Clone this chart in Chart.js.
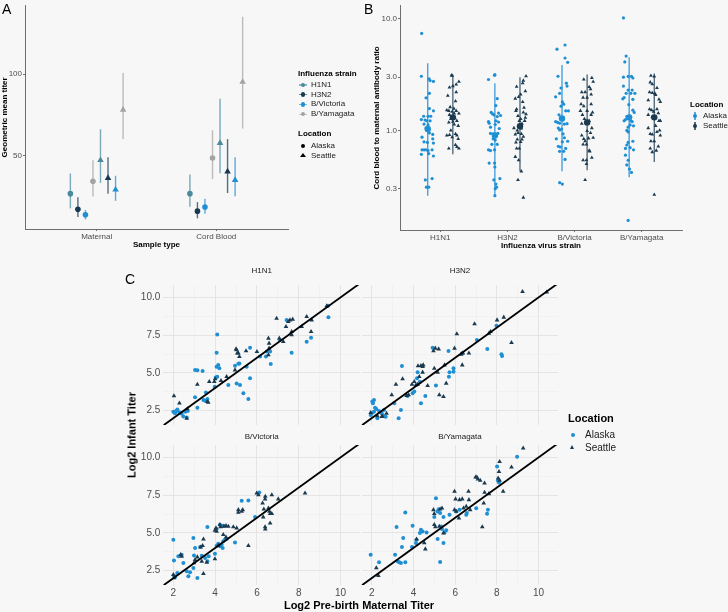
<!DOCTYPE html>
<html>
<head>
<meta charset="utf-8">
<script src="https://cdn.jsdelivr.net/npm/chart.js@4.4.0/dist/chart.umd.min.js"></script>
<style>
  body { margin: 0; background: #f7f7f7; font-family: "Liberation Sans", Arial, sans-serif; }
  #fig { position: relative; width: 728px; height: 612px; overflow: hidden; background: #f7f7f7; }
  #fig canvas { position: absolute; left: 0; top: 0; }
  .t { position: absolute; white-space: nowrap; }
  .key { position: absolute; }
</style>
</head>
<body>
<div id="fig"></div>
<script>
// ---- data ----
const sampleTypes = ['Maternal', 'Cord Blood'];
const strains = ['H1N1', 'H3N2', 'B/Victoria', 'B/Yamagata'];
const locations = ['Alaska', 'Seattle'];

// Panel A: geometric mean titer, [Maternal, Cord Blood] per strain
const gmtTicks = [50, 100];
const gmtAlaska = [[27.0, 27.0], [17.4, 16.3], [14.1, 18.8], [34.5, 48.8]];
const gmtAlaskaLow = [[18.0, 19.0], [12.7, 11.9], [11.3, 14.7], [25.2, 35.9]];
const gmtAlaskaHigh = [[39.3, 38.7], [24.8, 21.8], [17.0, 23.8], [47.4, 65.7]];
const gmtSeattle = [[47.4, 57.9], [36.5, 40.5], [29.4, 35.3], [78.2, 95.2]];
const gmtSeattleLow = [[33.5, 39.5], [27.0, 27.4], [22.6, 25.4], [60.3, 66.7]];
const gmtSeattleHigh = [[66.3, 84.9], [49.2, 60.3], [37.9, 49.2], [100.6, 135.0]];

// Panel B: cord blood / maternal ratio
const ratioTicks = [0.3, 1, 3, 10];
const ratioAlaskaMean = [1.03, 0.90, 1.28, 1.31];
const ratioAlaskaLow = [0.26, 0.26, 0.43, 0.38];
const ratioAlaskaHigh = [4.0, 2.65, 3.86, 4.54];
const ratioSeattleMean = [1.31, 1.09, 1.18, 1.31];
const ratioSeattleLow = [0.61, 0.43, 0.44, 0.52];
const ratioSeattleHigh = [3.18, 3.0, 3.18, 3.23];
// individual samples: [jitter, ratio]
const ratioH1N1Alaska = [[-0.09,7.4],[-0.095,3.06],[0.02,2.9],[0.035,2.8],[0.085,2.75],[0.025,2.15],[-0.025,1.96],[0.025,1.57],[0.085,1.5],[-0.06,1.34],[0.005,1.34],[0.045,1.34],[-0.095,1.25],[-0.04,1.24],[-0.015,1.22],[0.035,1.22],[-0.055,1.14],[0.005,1.12],[-0.025,1.05],[0,1.03],[0.015,1.03],[-0.015,1.01],[0.005,1.0],[0.025,0.95],[0.075,0.92],[-0.085,0.87],[0.075,0.84],[-0.055,0.79],[-0.005,0.78],[0.085,0.77],[-0.085,0.67],[-0.055,0.67],[-0.025,0.67],[0.005,0.66],[0.065,0.67],[0.015,0.62],[-0.095,0.61],[0.085,0.59],[-0.035,0.36],[0.065,0.37],[-0.02,0.31],[0.015,0.31]];
const ratioH1N1Seattle = [[-0.02,3.12],[-0.01,3.1],[0.09,2.74],[0.05,2.58],[0,2.5],[-0.05,2.43],[0.05,2.2],[-0.075,2.05],[0.04,1.83],[-0.04,1.62],[0.015,1.57],[-0.09,1.52],[-0.06,1.5],[-0.01,1.47],[0.05,1.5],[0.02,1.42],[0.09,1.42],[-0.05,1.38],[-0.01,1.33],[0.01,1.31],[0.03,1.29],[-0.03,1.27],[0.06,1.22],[0,1.2],[-0.06,1.18],[0.02,1.13],[0.08,1.1],[-0.03,1.0],[0.04,0.93],[0.06,0.9],[-0.09,0.9],[-0.05,0.91],[-0.01,0.87],[0.08,0.84],[0.04,0.74],[0.06,0.71],[0.09,0.69],[-0.06,0.69]];
const ratioH3N2Alaska = [[0,3.16],[-0.005,3.12],[-0.095,2.86],[0.035,1.93],[0.015,1.67],[-0.055,1.45],[-0.015,1.38],[-0.035,1.41],[0.055,1.43],[0.085,1.36],[0.035,1.33],[-0.095,1.2],[-0.085,1.16],[0.015,1.22],[0.055,1.19],[0.005,1.13],[-0.065,1.07],[0.065,1.04],[-0.065,0.94],[-0.025,0.93],[-0.005,0.91],[0.025,0.91],[0.045,0.94],[-0.025,0.84],[0.005,0.82],[-0.045,0.75],[0.035,0.75],[-0.095,0.67],[-0.065,0.66],[-0.005,0.67],[-0.085,0.51],[-0.005,0.51],[0,0.47],[-0.015,0.36],[0.075,0.37],[0.015,0.33],[0.025,0.31],[0.005,0.30],[0,0.26]];
const ratioH3N2Seattle = [[0.09,3.06],[0.05,2.8],[0.04,2.65],[-0.05,2.47],[0.08,2.25],[0.01,2.1],[-0.02,2.0],[-0.07,1.93],[0.04,1.8],[0.06,1.6],[-0.05,1.55],[-0.06,1.5],[0.05,1.45],[0.09,1.4],[-0.03,1.35],[0.08,1.3],[0.01,1.27],[-0.01,1.22],[0.07,1.22],[0.03,1.15],[-0.02,1.1],[0,1.08],[0.02,1.04],[-0.09,1.05],[-0.04,1.0],[-0.07,0.92],[-0.03,0.95],[0.02,0.93],[0.05,0.88],[-0.04,0.83],[0.03,0.83],[0.01,0.79],[-0.06,0.78],[-0.05,0.69],[-0.01,0.69],[-0.07,0.58],[-0.02,0.54],[0.02,0.43],[-0.03,0.36],[0.05,0.25]];
const ratioBVicAlaska = [[-0.075,5.35],[0.045,5.83],[0.045,4.46],[0.085,4.08],[-0.06,3.06],[0.065,2.65],[0.075,2.5],[-0.015,2.4],[-0.035,2.15],[-0.095,2.0],[0.005,1.8],[-0.015,1.65],[0.025,1.72],[0.055,1.5],[0.095,1.5],[-0.045,1.38],[0.005,1.3],[-0.005,1.27],[0.015,1.29],[-0.095,1.2],[-0.065,1.18],[-0.035,1.16],[0.075,1.15],[0.035,1.14],[-0.055,1.05],[-0.005,1.03],[-0.035,1.01],[0.015,0.93],[0.035,0.86],[-0.085,0.84],[0.085,0.8],[0.005,0.79],[-0.055,0.72],[-0.025,0.71],[0.055,0.69],[-0.035,0.65],[0.025,0.65],[0.045,0.55],[-0.035,0.34],[0.005,0.33]];
const ratioBVicSeattle = [[0.07,2.95],[-0.05,2.86],[0.09,2.74],[0.03,2.45],[0.05,2.35],[-0.08,2.2],[-0.03,2.2],[0.06,2.1],[-0.06,1.97],[0,1.97],[-0.09,1.72],[0.06,1.72],[-0.05,1.65],[-0.1,1.5],[0,1.5],[-0.07,1.38],[0.08,1.45],[0.06,1.38],[-0.04,1.27],[0,1.2],[0.03,1.22],[-0.08,1.15],[0.07,1.05],[0,0.99],[0.05,0.95],[-0.08,0.9],[-0.05,0.84],[0.02,0.85],[0.09,0.86],[-0.03,0.8],[-0.06,0.75],[-0.01,0.75],[0.03,0.66],[0.04,0.65],[0.07,0.57],[-0.06,0.54],[-0.01,0.54],[-0.01,0.5],[-0.03,0.36]];
const ratioBYamAlaska = [[-0.085,10.2],[-0.045,4.64],[-0.065,4.11],[-0.085,3.0],[-0.015,3.05],[0.035,3.05],[0.055,2.95],[-0.085,2.5],[0.045,2.3],[-0.015,2.3],[-0.045,2.15],[0.025,2.15],[0.085,2.15],[-0.095,1.92],[-0.075,1.97],[0.055,1.9],[-0.005,1.7],[0.055,1.52],[0.075,1.45],[-0.035,1.33],[-0.005,1.31],[0.005,1.29],[-0.055,1.25],[0.025,1.22],[0.045,1.2],[-0.075,1.22],[0.015,1.12],[0.065,1.1],[-0.015,1.07],[-0.035,1.0],[-0.015,0.97],[0.055,0.8],[-0.015,0.78],[-0.035,0.74],[0.015,0.7],[-0.055,0.69],[0.065,0.67],[-0.055,0.6],[-0.015,0.54],[-0.035,0.49],[0.005,0.45],[0.035,0.42],[-0.015,0.156]];
const ratioBYamSeattle = [[-0.05,3.1],[0,3.05],[-0.06,2.7],[0.04,2.4],[-0.03,2.6],[-0.07,2.2],[-0.03,2.17],[0.01,2.14],[0.02,2.08],[0.07,1.9],[0.09,1.8],[-0.09,1.87],[-0.07,1.55],[-0.04,1.52],[-0.01,1.47],[0.04,1.55],[0.06,1.43],[-0.09,1.38],[-0.03,1.33],[-0.01,1.29],[0.01,1.31],[0.07,1.22],[0.09,1.22],[-0.09,1.05],[0.02,1.1],[-0.06,0.93],[-0.03,0.92],[0.04,0.97],[0.08,1.0],[0.09,0.9],[-0.05,0.8],[0,0.8],[0.06,0.72],[-0.06,0.69],[0.03,0.66],[-0.03,0.64],[0,0.265]];
const ratioByStrain = [
  [ratioH1N1Alaska, ratioH1N1Seattle],
  [ratioH3N2Alaska, ratioH3N2Seattle],
  [ratioBVicAlaska, ratioBVicSeattle],
  [ratioBYamAlaska, ratioBYamSeattle]
];

// Panel C: [log2 pre-birth maternal titer, log2 infant titer]
const titerTicksX = [2, 4, 6, 8, 10];
const titerTicksY = [2.5, 5, 7.5, 10];
const titerH1N1Alaska = [[2.0,2.43],[2.08,2.32],[2.13,2.48],[2.19,2.57],[2.29,2.39],[2.4,2.3],[2.48,2.12],[2.57,2.43],[2.64,2.04],[2.69,2.48],[3.04,5.19],[3.15,5.17],[3.4,5.13],[3.15,2.7],[3.04,3.38],[3.44,3.2],[3.52,3.16],[3.63,3.27],[3.56,3.71],[3.98,4.09],[4.1,7.55],[4.07,6.34],[4.07,5.41],[4.15,5.52],[4.2,5.3],[4.03,4.69],[4.1,4.75],[4.63,4.2],[4.95,5.48],[5.11,5.6],[5.16,5.63],[5.03,4.29],[5.19,4.2],[5.35,3.65],[5.59,3.27],[5.67,4.64],[5.51,5.41],[5.67,6.67],[6.15,6.08],[6.47,6.41],[6.66,5.59],[6.63,6.41],[6.43,6.08],[7.42,8.5],[7.66,6.34],[7.1,7.18],[8.38,7.07],[8.59,7.33],[9.42,8.68],[9.4,9.45]];
const titerH1N1Seattle = [[2.03,3.47],[2.29,2.99],[2.67,2.61],[2.64,1.99],[3.15,4.24],[3.72,4.42],[3.63,3.1],[3.67,3.05],[3.96,4.42],[4.0,4.6],[4.28,4.49],[4.55,4.75],[4.95,5.19],[5.03,6.52],[5.11,6.3],[5.16,6.08],[5.0,6.58],[5.06,6.3],[5.48,6.45],[6.0,6.41],[6.55,7.29],[6.58,6.96],[6.55,6.19],[6.58,6.63],[6.94,8.61],[7.07,7.29],[7.26,7.07],[7.39,8.06],[7.5,8.39],[7.58,8.5],[7.71,8.55],[7.66,7.73],[7.66,7.51],[8.14,8.06],[8.38,8.72],[8.62,8.5],[8.59,7.73],[9.34,9.43]];
const titerH3N2Alaska = [[2.03,3.1],[2.11,3.21],[2.06,2.99],[2.16,2.7],[2.22,2.61],[2.0,2.32],[1.95,2.21],[2.11,2.43],[2.27,1.99],[2.35,2.48],[2.48,2.32],[2.59,2.54],[2.67,2.1],[2.55,2.17],[3.29,1.99],[3.4,2.54],[3.08,2.99],[3.45,5.46],[3.72,3.47],[3.96,3.65],[4.04,3.76],[4.2,5.04],[4.17,4.64],[4.31,4.42],[4.36,2.99],[4.57,3.47],[5.08,4.16],[4.92,6.67],[5.68,6.45],[5.7,4.75],[5.73,5.04],[5.92,5.3],[5.92,5.08],[6.34,6.3],[7.04,7.18],[7.54,6.58],[7.98,8.13],[8.22,6.23],[8.25,6.12]];
const titerH3N2Seattle = [[1.95,2.37],[2.27,2.15],[2.48,2.1],[2.71,2.32],[2.51,2.12],[2.96,3.54],[3.16,4.24],[3.48,4.6],[3.67,3.49],[3.77,3.54],[3.93,4.24],[4.04,4.42],[4.12,4.2],[4.22,5.46],[4.36,5.48],[4.44,5.41],[4.47,5.52],[4.44,5.04],[4.28,4.75],[4.2,4.24],[4.68,4.16],[4.96,6.45],[5.05,6.63],[5.21,6.58],[5.0,5.3],[5.16,5.04],[5.49,5.52],[5.24,3.54],[5.44,3.43],[5.57,4.31],[5.97,6.63],[6.08,7.58],[6.29,6.23],[6.37,6.3],[6.34,5.52],[6.66,6.3],[6.93,8.24],[7.62,7.62],[7.69,7.73],[8.01,8.5],[8.33,8.68],[8.7,7.0],[9.23,10.38],[10.39,10.34]];
const titerBVicAlaska = [[2.0,4.55],[2.03,3.18],[2.24,3.45],[2.03,2.17],[2.08,2.06],[2.19,2.35],[2.4,3.56],[2.48,3.01],[2.64,2.46],[2.72,2.13],[2.8,2.39],[2.96,4.66],[3.04,4.0],[2.99,3.51],[3.15,2.02],[2.96,2.68],[3.28,4.06],[3.36,3.49],[3.52,3.34],[3.63,3.12],[3.63,5.39],[3.69,3.45],[3.99,3.62],[4.07,4.15],[4.07,5.25],[4.15,4.28],[4.23,4.11],[4.31,4.22],[4.39,4.44],[4.47,4.55],[4.55,4.59],[4.36,4.0],[4.23,5.54],[4.39,5.47],[4.95,4.37],[5.27,7.13],[5.59,7.15],[5.91,6.05],[6.11,7.68]];
const titerBVicSeattle = [[2.0,2.24],[2.03,2.02],[2.35,3.56],[2.4,3.45],[2.99,3.01],[3.04,3.23],[3.15,3.4],[3.31,4.06],[3.4,4.15],[3.36,3.12],[3.44,4.59],[3.44,2.3],[3.6,3.05],[3.99,5.16],[4.04,5.32],[4.07,5.1],[3.99,3.27],[4.15,4.15],[4.23,5.54],[4.26,5.39],[4.42,5.43],[4.52,5.47],[4.63,5.43],[4.87,5.39],[4.39,4.88],[4.52,4.72],[5.03,5.32],[5.11,6.53],[5.11,6.35],[5.32,6.53],[5.27,6.42],[5.59,4.15],[5.99,7.63],[6.07,7.52],[6.27,6.97],[6.39,7.24],[6.4,7.41],[6.33,6.57],[6.55,6.64],[6.6,6.42],[6.3,6.05],[6.4,5.25],[6.39,5.39],[6.63,6.27],[6.71,6.27],[6.71,7.52],[6.63,5.65],[7.02,7.24],[8.3,7.63]];
const titerBYamAlaska = [[1.95,3.56],[2.35,3.05],[3.12,3.56],[3.24,3.12],[3.32,3.05],[3.4,3.01],[3.61,3.05],[3.19,5.39],[3.45,4.06],[3.51,4.66],[3.61,6.35],[3.96,5.47],[3.93,4.06],[4.12,4.33],[4.36,5.21],[4.44,5.1],[4.31,4.99],[4.63,5.03],[4.15,4.55],[5.0,6.05],[5.08,7.3],[5.16,6.42],[5.21,6.57],[5.28,6.31],[5.33,5.43],[5.49,5.03],[5.37,5.25],[5.57,5.17],[5.44,6.05],[5.73,6.2],[5.44,4.33],[5.16,4.59],[5.28,3.07],[6.05,6.42],[6.21,6.53],[6.53,6.2],[6.56,6.31],[7.01,6.64],[7.57,6.53],[7.53,6.27],[8.01,9.39],[8.1,8.34],[8.05,8.47],[8.97,10.05]];
const titerBYamSeattle = [[2.22,2.68],[2.32,2.17],[4.15,4.59],[4.52,4.33],[4.57,3.93],[4.96,6.53],[5.0,6.27],[5.0,5.54],[5.05,5.39],[5.28,6.57],[5.37,6.64],[5.24,5.43],[5.44,4.99],[5.97,7.74],[6.02,7.24],[5.97,6.53],[6.05,6.42],[6.21,7.19],[6.34,7.24],[6.18,5.98],[6.4,6.64],[6.53,6.75],[6.66,7.19],[6.64,7.74],[6.72,6.53],[6.98,8.69],[7.04,8.69],[7.09,8.56],[7.2,8.47],[7.3,5.39],[7.37,6.97],[7.41,7.68],[7.41,8.29],[7.62,7.59],[8.1,9.06],[8.13,9.72],[8.06,8.62],[8.13,8.47],[8.3,7.74],[8.7,9.35],[9.26,10.61]];

// ---- styling ----
const strainColors = ['#4b8a9e', '#173a52', '#1e8fd2', '#a3a3a3'];
const alaskaBlue = '#1f8fd3';
const seattleNavy = '#1b3a50';
const axisGray = '#6e6e6e';
const tickGray = '#4d4d4d';

Chart.defaults.font.family = '"Liberation Sans", Arial, sans-serif';
Chart.defaults.color = tickGray;

const fig = document.getElementById('fig');

function rgba(hex, a) {
  const n = parseInt(hex.slice(1), 16);
  return `rgba(${n >> 16},${(n >> 8) & 255},${n & 255},${a})`;
}

function newCanvas() {
  const c = document.createElement('canvas');
  c.width = 728;
  c.height = 612;
  fig.appendChild(c);
  return c;
}

function fixed(px) {
  return s => { if (s.isHorizontal()) s.height = px; else s.width = px; };
}

function setTicks(values) {
  return s => { s.ticks = values.map(v => ({ value: v })); };
}

// vertical interval lines drawn from each point's lo/hi through the scales
const errorBars = {
  id: 'errorBars',
  beforeDatasetsDraw(chart) {
    const { ctx, scales: { x, y } } = chart;
    ctx.save();
    chart.data.datasets.forEach(ds => {
      if (!ds.errColor) return;
      ctx.strokeStyle = ds.errColor;
      ctx.lineWidth = ds.errWidth;
      ds.data.forEach(p => {
        const px = x.getPixelForValue(p.x);
        ctx.beginPath();
        ctx.moveTo(px, y.getPixelForValue(p.lo));
        ctx.lineTo(px, y.getPixelForValue(p.hi));
        ctx.stroke();
      });
    });
    ctx.restore();
  }
};

function text(str, x, y, o = {}) {
  const d = document.createElement('div');
  const size = o.size || 8;
  d.className = 't';
  d.textContent = str;
  d.style.fontSize = size + 'px';
  d.style.lineHeight = size + 'px';
  d.style.fontWeight = o.bold ? 'bold' : 'normal';
  d.style.color = o.color || '#000';
  d.style.left = x + 'px';
  d.style.top = y + 'px';
  const dx = o.align === 'center' ? '-50%' : (o.align === 'right' ? '-100%' : '0');
  d.style.transform = `translate(${dx},-50%)` + (o.rotate ? ` rotate(${o.rotate}deg)` : '');
  fig.appendChild(d);
}

function key(shape, x, y, color, r, line) {
  if (line) {
    const l = document.createElement('div');
    l.className = 'key';
    l.style.cssText += `left:${x - 0.6}px;top:${y - line / 2}px;width:1.2px;height:${line}px;background:${color};opacity:0.75`;
    fig.appendChild(l);
  }
  const d = document.createElement('div');
  d.className = 'key';
  if (shape === 'circle') {
    d.style.cssText += `left:${x - r}px;top:${y - r}px;width:${2 * r}px;height:${2 * r}px;border-radius:50%;background:${color}`;
  } else {
    const h = r * 1.6;
    d.style.cssText += `left:${x - r}px;top:${y - h * 0.6}px;width:0;height:0;border-left:${r}px solid transparent;border-right:${r}px solid transparent;border-bottom:${h}px solid ${color}`;
  }
  fig.appendChild(d);
}

const axisTicksFont = { size: 8 };
const axisTitleFont = { size: 8, weight: 'bold' };

function classicAxis(extra) {
  return Object.assign({
    border: { display: true, color: axisGray, width: 1 },
    grid: { display: true, drawOnChartArea: false, drawTicks: true, tickLength: 2, color: axisGray },
    ticks: { font: axisTicksFont, color: tickGray, padding: 1, autoSkip: false, maxRotation: 0, minRotation: 0 }
  }, extra);
}

// ---- Panel A ----
const dodge = 0.063;
const dsA = [];
locations.forEach((loc, li) => {
  const mean = li ? gmtSeattle : gmtAlaska;
  const low = li ? gmtSeattleLow : gmtAlaskaLow;
  const high = li ? gmtSeattleHigh : gmtAlaskaHigh;
  strains.forEach((s, si) => {
    const off = (li * 4 + si - 3.5) * dodge;
    dsA.push({
      label: s + ' ' + loc,
      data: sampleTypes.map((t, ti) => ({ x: ti + 1 + off, y: mean[si][ti], lo: low[si][ti], hi: high[si][ti] })),
      pointStyle: li ? 'triangle' : 'circle',
      pointRadius: li ? 3.8 : 2.8,
      backgroundColor: strainColors[si],
      borderColor: strainColors[si],
      borderWidth: 0,
      errColor: rgba(strainColors[si], 0.72),
      errWidth: 1.4
    });
  });
});

new Chart(newCanvas(), {
  type: 'scatter',
  data: { datasets: dsA },
  plugins: [errorBars],
  options: {
    responsive: false, animation: false, devicePixelRatio: 1,
    layout: { padding: { left: 0, top: 0, right: 440, bottom: 362 } },
    plugins: { legend: { display: false }, tooltip: { enabled: false } },
    scales: {
      x: classicAxis({
        type: 'linear', min: 0.4, max: 2.6,
        afterBuildTicks: setTicks([1, 2]),
        afterFit: fixed(21),
        ticks: { font: axisTicksFont, color: tickGray, padding: 1, autoSkip: false, maxRotation: 0, minRotation: 0,
                 callback: v => sampleTypes[v - 1] },
        title: { display: true, text: 'Sample type', font: axisTitleFont, color: '#000', padding: 0 }
      }),
      y: classicAxis({
        type: 'linear', min: 5.4, max: 141.7,
        afterBuildTicks: setTicks(gmtTicks),
        afterFit: fixed(25),
        title: { display: true, text: 'Geometric mean titer', font: axisTitleFont, color: '#000', padding: 0 }
      })
    }
  }
});

// ---- Panel B ----
const groupOffset = 0.187;
const dsB = [];
[[ratioAlaskaMean, ratioAlaskaLow, ratioAlaskaHigh], [ratioSeattleMean, ratioSeattleLow, ratioSeattleHigh]]
  .forEach(([mean, low, high], li) => {
    const off = li ? groupOffset : -groupOffset;
    const col = li ? seattleNavy : alaskaBlue;
    dsB.push({
      label: locations[li] + ' mean',
      data: strains.map((s, i) => ({ x: i + 1 + off, y: mean[i], lo: low[i], hi: high[i] })),
      pointStyle: 'circle', pointRadius: 3.2,
      backgroundColor: col, borderColor: col, borderWidth: 0,
      errColor: li ? '#4a6274' : '#3a9bdb', errWidth: 1.3
    });
  });
ratioByStrain.forEach((pair, si) => {
  pair.forEach((pts, li) => {
    const off = li ? groupOffset : -groupOffset;
    const col = li ? seattleNavy : alaskaBlue;
    dsB.push({
      label: strains[si] + ' ' + locations[li],
      data: pts.map(([j, v]) => ({ x: si + 1 + off + j, y: v })),
      pointStyle: li ? 'triangle' : 'circle',
      pointRadius: li ? 2.2 : 1.6,
      backgroundColor: col, borderColor: col, borderWidth: 0
    });
  });
});

new Chart(newCanvas(), {
  type: 'scatter',
  data: { datasets: dsB },
  plugins: [errorBars],
  options: {
    responsive: false, animation: false, devicePixelRatio: 1,
    layout: { padding: { left: 372, top: 0, right: 46, bottom: 361 } },
    plugins: { legend: { display: false }, tooltip: { enabled: false } },
    scales: {
      x: classicAxis({
        type: 'linear', min: 0.4, max: 4.6,
        afterBuildTicks: setTicks([1, 2, 3, 4]),
        afterFit: fixed(21),
        ticks: { font: axisTicksFont, color: tickGray, padding: 1, autoSkip: false, maxRotation: 0, minRotation: 0,
                 callback: v => strains[v - 1] },
        title: { display: true, text: 'Influenza virus strain', font: axisTitleFont, color: '#000', padding: 0 }
      }),
      y: classicAxis({
        type: 'logarithmic', min: 0.128, max: 13.1,
        afterBuildTicks: setTicks(ratioTicks),
        afterFit: fixed(28),
        ticks: { font: axisTicksFont, color: tickGray, padding: 1, autoSkip: false,
                 callback: v => Number(v).toFixed(1) },
        title: { display: true, text: 'Cord blood to maternal antibody ratio', font: axisTitleFont, color: '#000', padding: 0 }
      })
    }
  }
});

// ---- Panel C facets ----
const gridX = [2, 3, 4, 5, 6, 7, 8, 9, 10];
const gridY = [2.5, 3.75, 5, 6.25, 7.5, 8.75, 10];

function facet(alaska, seattle, box) {
  new Chart(newCanvas(), {
    type: 'scatter',
    data: {
      datasets: [
        {
          label: 'identity', data: [{ x: 1.5, y: 1.5 }, { x: 11, y: 11 }],
          showLine: true, borderColor: '#000', borderWidth: 1.8, pointRadius: 0
        },
        {
          label: 'Seattle', data: seattle.map(([x, y]) => ({ x, y })),
          pointStyle: 'triangle', pointRadius: 2.7,
          backgroundColor: seattleNavy, borderColor: seattleNavy, borderWidth: 0
        },
        {
          label: 'Alaska', data: alaska.map(([x, y]) => ({ x, y })),
          pointStyle: 'circle', pointRadius: 2,
          backgroundColor: alaskaBlue, borderColor: alaskaBlue, borderWidth: 0
        }
      ]
    },
    options: {
      responsive: false, animation: false, devicePixelRatio: 1,
      layout: { padding: box.pad },
      plugins: { legend: { display: false }, tooltip: { enabled: false } },
      scales: {
        x: {
          type: 'linear', min: 1.52, max: 10.93,
          afterBuildTicks: setTicks(gridX),
          afterFit: fixed(box.showX ? 14 : 0),
          border: { display: false },
          grid: {
            drawTicks: false,
            color: c => (c.tick && titerTicksX.includes(c.tick.value)) ? '#e4e4e4' : '#eeeeee',
            lineWidth: c => (c.tick && titerTicksX.includes(c.tick.value)) ? 1 : 0.7
          },
          ticks: {
            display: box.showX, font: { size: 10 }, color: tickGray, padding: 2,
            autoSkip: false, maxRotation: 0, minRotation: 0,
            callback: v => titerTicksX.includes(v) ? String(v) : ''
          }
        },
        y: {
          type: 'linear', min: 1.55, max: 10.82,
          afterBuildTicks: setTicks(gridY),
          afterFit: fixed(box.showY ? 30 : 0),
          border: { display: false },
          grid: {
            drawTicks: false,
            color: c => (c.tick && titerTicksY.includes(c.tick.value)) ? '#e4e4e4' : '#eeeeee',
            lineWidth: c => (c.tick && titerTicksY.includes(c.tick.value)) ? 1 : 0.7
          },
          ticks: {
            display: box.showY, font: { size: 10 }, color: tickGray, padding: 3, autoSkip: false,
            callback: v => titerTicksY.includes(v) ? v.toFixed(1) : ''
          }
        }
      }
    }
  });
}

facet(titerH1N1Alaska, titerH1N1Seattle, { pad: { left: 133.3, top: 285, right: 368, bottom: 187 }, showX: false, showY: true });
facet(titerH3N2Alaska, titerH3N2Seattle, { pad: { left: 361.7, top: 285, right: 170, bottom: 187 }, showX: false, showY: false });
facet(titerBVicAlaska, titerBVicSeattle, { pad: { left: 133.3, top: 445, right: 368, bottom: 13 }, showX: true, showY: true });
facet(titerBYamAlaska, titerBYamSeattle, { pad: { left: 361.7, top: 445, right: 170, bottom: 13 }, showX: true, showY: false });

// ---- labels and legends ----
text('A', 2, 9, { size: 14 });
text('B', 364, 9, { size: 14 });
text('C', 125, 279, { size: 14 });

// panel A legend
text('Influenza strain', 298, 74, { bold: true });
strains.forEach((s, i) => {
  const y = 85 + i * 9.7;
  key('circle', 303, y, strainColors[i], 2.4, 0);
  const l = document.createElement('div');
  l.className = 'key';
  l.style.cssText = `left:299px;top:${y - 0.6}px;width:8px;height:1.2px;background:${strainColors[i]};opacity:0.6`;
  fig.appendChild(l);
  text(s, 311, y, { color: '#1a1a1a' });
});
text('Location', 298, 134, { bold: true });
key('circle', 303, 146, '#000', 2.4, 0);
text('Alaska', 311, 146, { color: '#1a1a1a' });
key('triangle', 303, 156, '#000', 3, 0);
text('Seattle', 311, 156, { color: '#1a1a1a' });

// panel B legend
text('Location', 690, 105, { bold: true });
key('circle', 695, 116, alaskaBlue, 2.4, 8);
text('Alaska', 703, 116, { color: '#1a1a1a' });
key('circle', 695, 126, seattleNavy, 2.4, 8);
text('Seattle', 703, 126, { color: '#1a1a1a' });

// panel C strips, titles, legend
text('H1N1', 261.7, 271, { align: 'center', color: '#1a1a1a' });
text('H3N2', 460, 271, { align: 'center', color: '#1a1a1a' });
text('B/Victoria', 261.7, 436.5, { align: 'center', color: '#1a1a1a' });
text('B/Yamagata', 460, 436.5, { align: 'center', color: '#1a1a1a' });
text('Log2 Pre-birth Maternal Titer', 359, 605, { align: 'center', size: 11, bold: true });
text('Log2 Infant Titer', 132, 435, { align: 'center', size: 11, bold: true, rotate: -90 });
text('Location', 568, 418, { size: 11, bold: true });
key('circle', 573, 434.5, alaskaBlue, 2, 0);
text('Alaska', 585, 435, { size: 10, color: '#1a1a1a' });
key('triangle', 573, 447.5, seattleNavy, 2.6, 0);
text('Seattle', 585, 448, { size: 10, color: '#1a1a1a' });
</script>
</body>
</html>
